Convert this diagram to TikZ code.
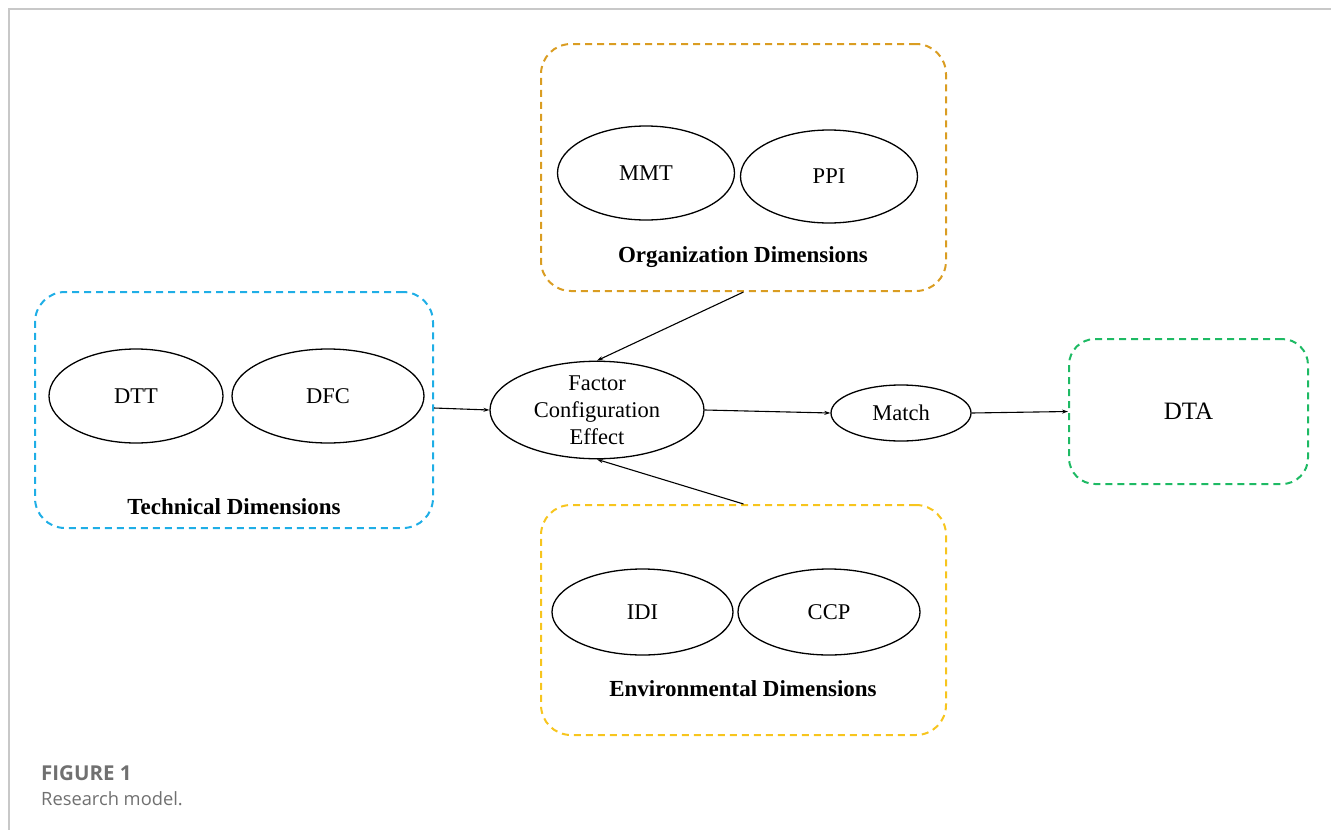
\documentclass[tikz,border=0pt]{standalone}
\usepackage{fontspec}
\setmainfont{Liberation Serif}
\newfontfamily\capfont{Open Sans}
\usetikzlibrary{shapes.geometric,arrows.meta}

\definecolor{techblue}{HTML}{1FAEE6}
\definecolor{orgorange}{HTML}{DA9D22}
\definecolor{envyellow}{HTML}{F7C51E}
\definecolor{dtagreen}{HTML}{1EBA64}
\definecolor{framegray}{HTML}{C8C8C8}
\definecolor{capgray}{HTML}{707070}

\tikzset{
  groupbox/.style={draw, line width=2pt, dash pattern=on 7pt off 5pt,
    rounded corners=30pt, rectangle, inner sep=0pt, text=black},
  factor/.style={draw, ellipse, line width=1.3pt, inner sep=0pt,
    font=\fontsize{22.5}{27}\selectfont, align=center},
  grouplabel/.style={font=\fontsize{23}{26}\selectfont\bfseries},
  link/.style={line width=1.1pt, -{Stealth[length=6pt,width=4pt]}},
}

\begin{document}
\begin{tikzpicture}[x=1pt, y=-1pt]
\useasboundingbox (0,0) rectangle (1331,830);

% page frame
\draw[framegray, line width=1.5pt] (9,830) -- (9,9) -- (1331,9);

% technical group
\node[groupbox, draw=techblue, minimum width=398pt, minimum height=236pt] (tech) at (234,410) {};
\node[factor, minimum width=174pt, minimum height=94pt] (dtt) at (136,396) {DTT};
\node[factor, minimum width=192pt, minimum height=94pt] (dfc) at (328,396) {DFC};
\node[grouplabel] (techlbl) at (234,507) {Technical Dimensions};

% organization group
\node[groupbox, draw=orgorange, minimum width=405pt, minimum height=247pt] (org) at (743.5,167.5) {};
\node[factor, minimum width=177pt, minimum height=94pt] (mmt) at (646,173) {MMT};
\node[factor, minimum width=177pt, minimum height=93pt] (ppi) at (829,176.5) {PPI};
\node[grouplabel] (orglbl) at (743,257) {Organization Dimensions};

% environmental group
\node[groupbox, draw=envyellow, minimum width=405pt, minimum height=230pt] (env) at (743.5,620) {};
\node[factor, minimum width=181pt, minimum height=86pt] (idi) at (642.5,612) {IDI};
\node[factor, minimum width=182pt, minimum height=86pt] (ccp) at (829,612) {CCP};
\node[grouplabel] (envlbl) at (743,689) {Environmental Dimensions};

% configuration and outcome
\node[factor, minimum width=214pt, minimum height=92pt] (fce) at (597,410)
  {Factor\\Configuration\\Effect};
\node[factor, minimum width=140pt, minimum height=56pt] (match) at (901,413) {Match};
\node[groupbox, draw=dtagreen, minimum width=239pt, minimum height=145pt,
  rounded corners=26pt, font=\fontsize{25}{30}\selectfont] (dta) at (1188.5,411.5) {DTA};

% connectors
\draw[link] (tech.east |- 0,408) -- (fce.west);
\draw[link] (org.south) -- (fce.north);
\draw[link] (env.north) -- (fce.south);
\draw[link] (fce.east) -- (match.west);
\draw[link] (match.east) -- (dta.west);

% caption
\node[anchor=base west, inner sep=0pt, text=capgray,
  font=\capfont\fontsize{20.5}{24}\selectfont\bfseries] (figno) at (41,780) {FIGURE 1};
\node[anchor=base west, inner sep=0pt, text=capgray,
  font=\capfont\fontsize{18.3}{22}\selectfont] (figcap) at (41,805) {Research model.};
\end{tikzpicture}
\end{document}
